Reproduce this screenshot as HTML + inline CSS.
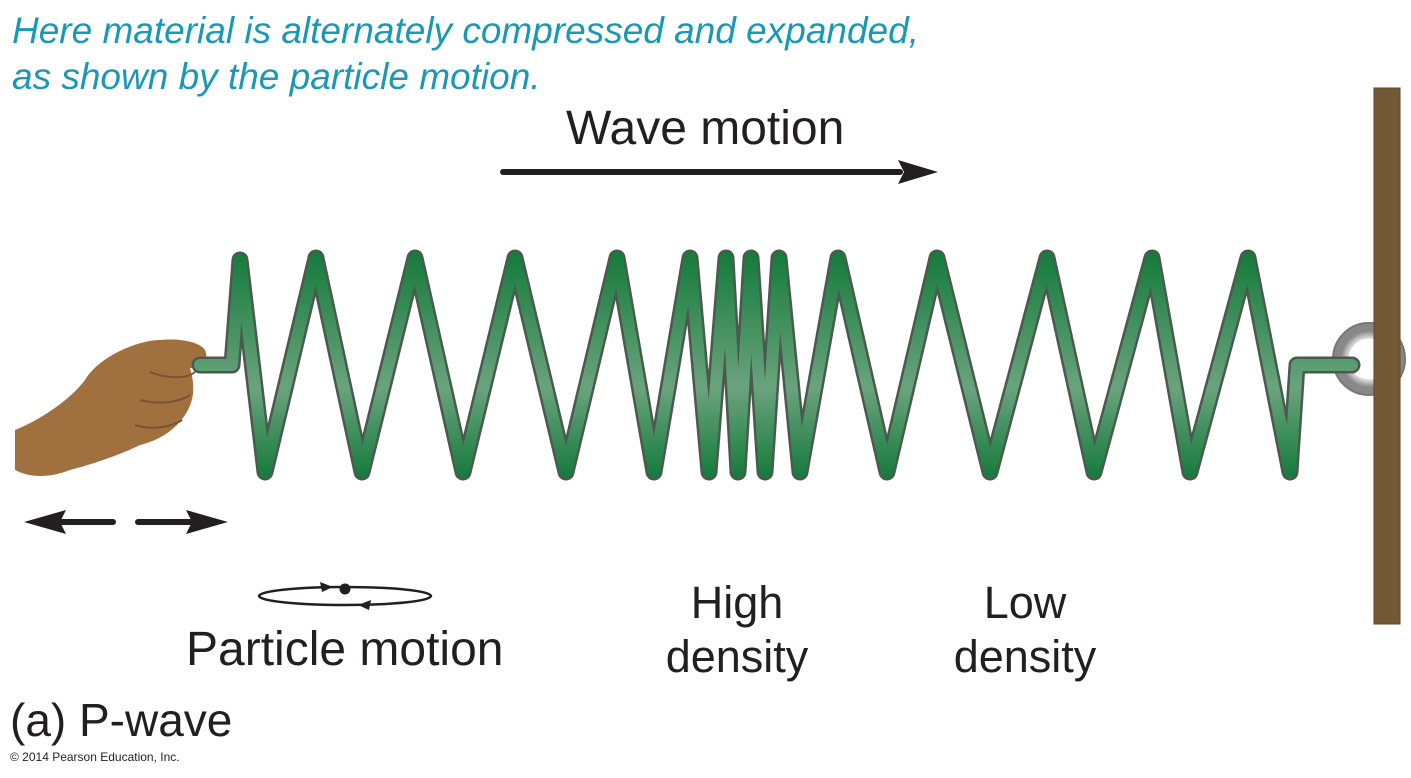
<!DOCTYPE html>
<html><head><style>
body{margin:0;width:1411px;height:778px;background:#fff;overflow:hidden;position:relative;font-family:"Liberation Sans",sans-serif}
.t{position:absolute;white-space:nowrap;color:#231f20}
</style></head><body>
<div class="t" style="left:12px;top:8px;font-size:37px;font-style:italic;color:#1a98b4;line-height:46px">Here material is alternately compressed and expanded,<br>as shown by the particle motion.</div>
<div class="t" style="left:566px;top:101px;font-size:48px">Wave motion</div>
<div class="t" style="left:186px;top:622px;font-size:48px">Particle motion</div>
<div class="t" style="left:652px;top:576px;font-size:45px;line-height:54px;text-align:center;width:170px">High<br>density</div>
<div class="t" style="left:940px;top:576px;font-size:45px;line-height:54px;text-align:center;width:170px">Low<br>density</div>
<div class="t" style="left:10px;top:693px;font-size:46px">(a) P-wave</div>
<div class="t" style="left:10px;top:750px;font-size:12px">© 2014 Pearson Education, Inc.</div>
<svg width="1411" height="778" style="position:absolute;left:0;top:0">
<defs>
<linearGradient id="g" x1="0" y1="250" x2="0" y2="480" gradientUnits="userSpaceOnUse">
<stop offset="0" stop-color="#137a3a"/><stop offset="0.6" stop-color="#6aa37c"/><stop offset="1" stop-color="#137a3a"/></linearGradient>
<radialGradient id="r"><stop offset="0.55" stop-color="#fff"/><stop offset="0.8" stop-color="#ccc"/><stop offset="1" stop-color="#888"/></radialGradient>
</defs>
<circle cx="1369" cy="359" r="28" fill="none" stroke="url(#r)" stroke-width="15"/>
<circle cx="1369" cy="359" r="36" fill="none" stroke="#777" stroke-width="2"/>
<rect x="1374" y="88" width="26" height="536" fill="#735a35" stroke="#5a4528"/>
<path d="M15,430 C40,420 70,400 85,380 C100,355 140,340 160,340 C180,338 200,342 205,350 C210,362 200,368 190,368 C195,385 195,400 185,415 C175,430 160,440 140,445 C120,455 90,465 70,470 C50,478 30,478 15,470 Z" fill="#a0703f"/>
<g fill="none" stroke-linejoin="round" stroke-linecap="round">
<polyline points="200,365 232,365 240,260 265,472 316,258 362,472 415,258 463,472 515,258 566,472 617,258 654,472 690,258 709,472 726,258 738,472 751,258 765,472 779,258 800,472 838,258 887,472 937,258 990,472 1047,258 1094,472 1152,258 1190,472 1248,258 1290,472 1297,365 1352,365" stroke="#4a5a4e" stroke-width="17"/>
<polyline points="200,365 232,365 240,260 265,472 316,258 362,472 415,258 463,472 515,258 566,472 617,258 654,472 690,258 709,472 726,258 738,472 751,258 765,472 779,258 800,472 838,258 887,472 937,258 990,472 1047,258 1094,472 1152,258 1190,472 1248,258 1290,472 1297,365 1352,365" stroke="url(#g)" stroke-width="12"/>
</g>
<path d="M150,372 C165,378 185,380 195,372 M140,400 C160,405 180,402 190,395 M135,425 C150,430 170,428 182,420" fill="none" stroke="#7a5330" stroke-width="2"/>
<line x1="503" y1="172" x2="900" y2="172" stroke="#231f20" stroke-width="6" stroke-linecap="round"/>
<polygon points="938,172 898,160 904,172 898,184" fill="#231f20"/>
<line x1="60" y1="522" x2="113" y2="522" stroke="#231f20" stroke-width="6" stroke-linecap="round"/>
<polygon points="24,522 66,510 60,522 66,534" fill="#231f20"/>
<line x1="138" y1="522" x2="190" y2="522" stroke="#231f20" stroke-width="6" stroke-linecap="round"/>
<polygon points="228,522 186,510 192,522 186,534" fill="#231f20"/>
<ellipse cx="345" cy="596" rx="86" ry="9" fill="none" stroke="#231f20" stroke-width="2.5"/>
<circle cx="345" cy="589" r="5.5" fill="#231f20"/>
<polygon points="333,587 320,582 322,592" fill="#231f20"/>
<polygon points="358,605 371,600 369,610" fill="#231f20"/>
</svg>
</body></html>
